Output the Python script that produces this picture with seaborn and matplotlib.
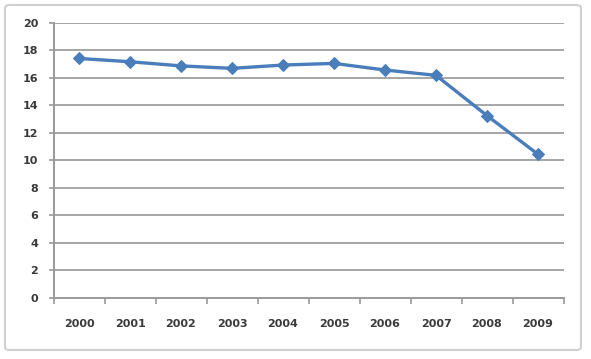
import matplotlib
matplotlib.use("Agg")
import matplotlib.pyplot as plt
from matplotlib.patches import FancyBboxPatch
import seaborn as sns
import pandas as pd
import numpy as np

years = ["2000", "2001", "2002", "2003", "2004", "2005", "2006", "2007", "2008", "2009"]
values = [17.4, 17.16, 16.86, 16.68, 16.92, 17.04, 16.56, 16.17, 13.24, 10.43]
y_ticks = [0, 2, 4, 6, 8, 10, 12, 14, 16, 18, 20]

sns.set_theme(style="white")
plt.rcParams['font.family'] = ['DejaVu Sans']

fig = plt.figure(figsize=(5.91, 3.59), dpi=100)
ax = fig.add_axes([53.5/591, 1-297.7/359, 510/591, 275/359])

df = pd.DataFrame({"pos": np.arange(len(years)), "value": values})
sns.lineplot(data=df, x="pos", y="value", ax=ax, color="#4a7ebb", linewidth=2.4,
             marker="D", markersize=6.5, markeredgecolor="#4a7ebb")

ax.set_xlim(-0.5, len(years) - 0.5)
ax.set_ylim(0, 20)
ax.set_yticks(y_ticks)
ax.set_yticklabels([str(t) for t in y_ticks], fontweight="bold")
ax.set_xticks(np.arange(len(years)))
ax.set_xticklabels(years, fontweight="bold")
ax.set_xticks(np.arange(len(years) + 1) - 0.5, minor=True)
ax.tick_params(axis="x", which="major", length=0, pad=15.5, labelsize=8, labelcolor="#3a3a3a")
ax.tick_params(axis="x", which="minor", length=4, width=1.2, color="#9a9a9a", direction="out", bottom=True)
ax.tick_params(axis="y", which="major", length=3.7, width=1.2, color="#9a9a9a", direction="out", left=True,
               labelsize=8, labelcolor="#3a3a3a", pad=7.4)
ax.set_xlabel("")
ax.set_ylabel("")

for y in y_ticks[1:]:
    ax.axhline(y, color="#a6a6a6", linewidth=1.4, zorder=0)

for s in ["top", "right"]:
    ax.spines[s].set_visible(False)
for s in ["left", "bottom"]:
    ax.spines[s].set_color("#9a9a9a")
    ax.spines[s].set_linewidth(1.4)

border = FancyBboxPatch((5/591, 1-350/359), 576/591, 345/359,
                        boxstyle="round,pad=0,rounding_size=0.008",
                        transform=fig.transFigure, fill=False,
                        edgecolor="#d0d0d0", linewidth=1.5)
fig.patches.append(border)

fig.savefig("out.png", dpi=100)
